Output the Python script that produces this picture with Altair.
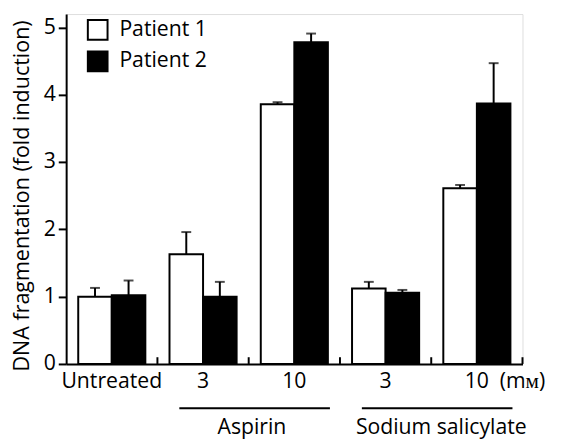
import altair as alt
import pandas as pd

# ---- data ----
conditions = ["Untreated", "Aspirin 3", "Aspirin 10", "Salicylate 3", "Salicylate 10"]
tick_labels = ["Untreated", "3", "10", "3", "10"]
patients = ["Patient 1", "Patient 2"]
p1_mean = [1.00, 1.63, 3.86, 1.12, 2.61]
p1_err = [0.13, 0.33, 0.03, 0.10, 0.05]
p2_mean = [1.02, 1.00, 4.78, 1.06, 3.87]
p2_err = [0.22, 0.22, 0.13, 0.04, 0.60]
groups = ["Aspirin", "Sodium salicylate"]
group_start = ["Aspirin 3", "Salicylate 3"]
group_end = ["Aspirin 10", "Salicylate 10"]
group_label_at = ["Aspirin 10", "Salicylate 10"]
unit_label = "(mᴍ)"

rows = []
for i, c in enumerate(conditions):
    rows.append({"cond": c, "patient": patients[0], "value": p1_mean[i], "hi": p1_mean[i] + p1_err[i]})
    rows.append({"cond": c, "patient": patients[1], "value": p2_mean[i], "hi": p2_mean[i] + p2_err[i]})
df = pd.DataFrame(rows)
ticks_df = pd.DataFrame({"cond": conditions})
groups_df = pd.DataFrame({"group": groups, "start": group_start, "end": group_end, "at": group_label_at})
unit_df = pd.DataFrame({"cond": [conditions[-1]], "txt": [unit_label]})

FONT = "Open Sans"
FS = 21.5

label_expr = " : ".join(
    [f"datum.value == '{c}' ? '{t}'" for c, t in zip(conditions, tick_labels)] + ["''"]
)

xscale = alt.Scale(domain=conditions, paddingInner=0, paddingOuter=0)
yscale = alt.Scale(domain=[0, 5.2], nice=False)
offscale = alt.Scale(domain=patients, paddingInner=0, paddingOuter=0.36)

x_main = alt.X(
    "cond:N", scale=xscale, sort=conditions, title=None,
    axis=alt.Axis(labelExpr=label_expr, labelAngle=0, ticks=False, domainWidth=2,
                  domainColor="black", labelFontSize=FS, labelFont=FONT,
                  labelColor="black", labelPadding=7),
)
y_main = alt.Y(
    "value:Q", scale=yscale, title="DNA fragmentation (fold induction)",
    axis=alt.Axis(values=[0, 1, 2, 3, 4, 5], format="d", grid=False, domainWidth=2,
                  domainColor="black", tickWidth=2, tickSize=8, tickColor="black",
                  labelFontSize=FS, labelFont=FONT, labelColor="black", labelPadding=3,
                  titleFontSize=21.8, titleFont=FONT, titleFontWeight="normal",
                  titleColor="black", titleX=-45, titleY=184, titleAlign="center",
                  titleBaseline="middle", titleAngle=270, titleLimit=500),
)

bars = alt.Chart(df).mark_bar(stroke="black", strokeWidth=2).encode(
    x=x_main,
    xOffset=alt.XOffset("patient:N", scale=offscale, sort=patients),
    y=y_main,
    fill=alt.Fill("patient:N", scale=alt.Scale(domain=patients, range=["white", "black"]),
                  legend=alt.Legend(title=None, orient="none", legendX=21, legendY=5,
                                    symbolType="square", symbolSize=400,
                                    symbolStrokeColor="black", symbolStrokeWidth=2,
                                    labelFontSize=FS, labelFont=FONT, labelColor="black",
                                    labelOffset=11, rowPadding=4)),
)

err = alt.Chart(df).mark_rule(color="black", strokeWidth=2).encode(
    x=alt.X("cond:N", scale=xscale, sort=conditions),
    xOffset=alt.XOffset("patient:N", scale=offscale, sort=patients),
    y=alt.Y("value:Q", scale=yscale),
    y2="hi:Q",
)
caps = alt.Chart(df).mark_tick(color="black", size=10, thickness=2).encode(
    x=alt.X("cond:N", scale=xscale, sort=conditions),
    xOffset=alt.XOffset("patient:N", scale=offscale, sort=patients),
    y=alt.Y("hi:Q", scale=yscale),
)

up_ticks = alt.Chart(ticks_df).mark_rule(color="black", strokeWidth=2).encode(
    x=alt.X("cond:N", scale=xscale, sort=conditions, bandPosition=1),
    y=alt.datum(0, scale=yscale),
    y2=alt.datum(0.1),
)

unit = alt.Chart(unit_df).mark_text(fontSize=FS, font=FONT, color="black",
                                    align="center", baseline="middle").encode(
    x=alt.X("cond:N", scale=xscale, sort=conditions, bandPosition=1),
    y=alt.value(373),
    text="txt:N",
)

group_lines = alt.Chart(groups_df).mark_rule(color="black", strokeWidth=2).encode(
    x=alt.X("start:N", scale=xscale, sort=conditions, bandPosition=0.24),
    x2=alt.X2("end:N", bandPosition=0.89),
    y=alt.value(400),
)


def group_label(name, bpos):
    return alt.Chart(groups_df).transform_filter(
        alt.datum.group == name
    ).mark_text(fontSize=FS, font=FONT, color="black",
                align="center", baseline="middle").encode(
        x=alt.X("at:N", scale=xscale, sort=conditions, bandPosition=bpos),
        y=alt.value(420),
        text="group:N",
    )


text_a = group_label(groups[0], 0.035)
text_s = group_label(groups[1], 0.11)

chart = alt.layer(bars, err, caps, up_ticks, unit, group_lines, text_a, text_s).properties(
    width=463, height=355,
    autosize=alt.AutoSizeParams(type="none"),
    padding={"left": 59, "top": 3, "right": 35, "bottom": 73},
    background="white",
).configure_view(stroke=None).configure(font=FONT)

chart.save("out.html", embed_options={"renderer": "svg", "actions": False})
